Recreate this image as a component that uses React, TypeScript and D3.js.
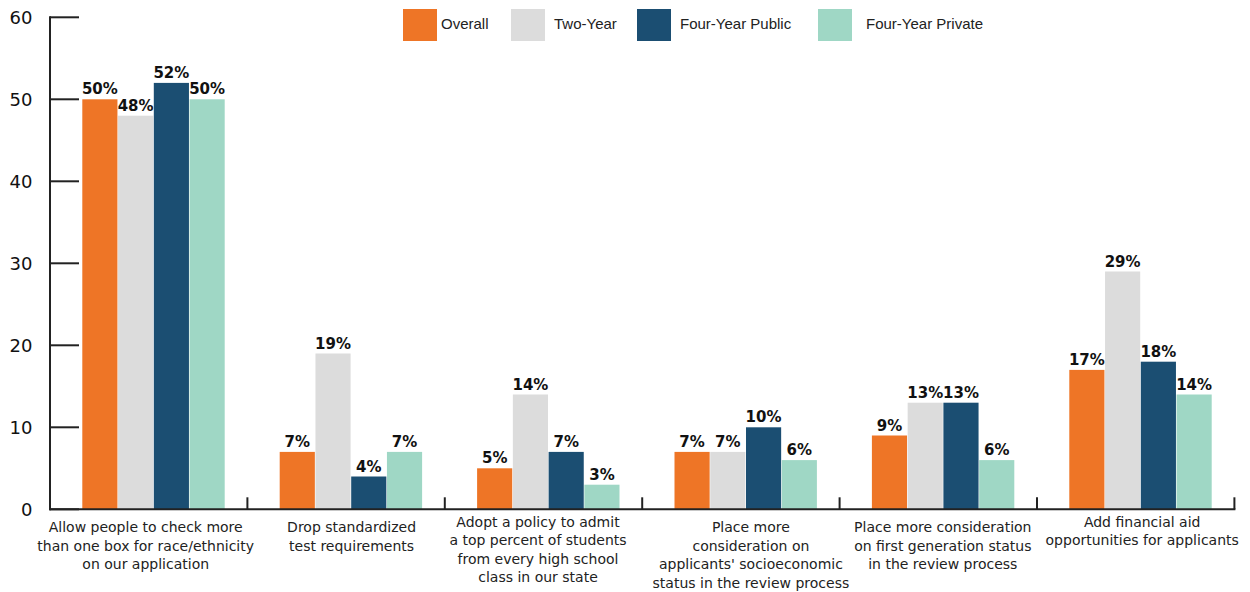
import React from "react";
import * as d3 from "d3";

const categories: string[][] = [
  ["Allow people to check more", "than one box for race/ethnicity", "on our application"],
  ["Drop standardized", "test requirements"],
  ["Adopt a policy to admit", "a top percent of students", "from every high school", "class in our state"],
  ["Place more", "consideration on", "applicants' socioeconomic", "status in the review process"],
  ["Place more consideration", "on first generation status", "in the review process"],
  ["Add financial aid", "opportunities for applicants"],
];
const seriesNames = ["Overall", "Two-Year", "Four-Year Public", "Four-Year Private"];
const overall = [50, 7, 5, 7, 9, 17];
const twoYear = [48, 19, 14, 7, 13, 29];
const fourYearPublic = [52, 4, 7, 10, 13, 18];
const fourYearPrivate = [50, 7, 3, 6, 6, 14];
const yTicks = [0, 10, 20, 30, 40, 50, 60];

const colors = ["#EE7526", "#DCDCDC", "#1B4E72", "#9FD7C5"];

// layout constants
const labelNudgeX = [-3, 5.5, -5.5, 10, 4.5, 6.5];
const labelFirstBaseline = [532, 532, 526.5, 532, 532, 526.5];
const legendSquareX = [403, 511, 637, 818];
const legendTextX = [441, 554, 680, 866];

export default function App() {
  const W = 1250;
  const H = 592;
  const values = [overall, twoYear, fourYearPublic, fourYearPrivate];
  const catIdx = categories.map((_, i) => String(i));
  const x0 = d3.scaleBand<string>().domain(catIdx).range([50, 1234.4]).padding(0);
  const x1 = d3.scaleBand<string>().domain(seriesNames).range([0, 143]).padding(0);
  const y = d3.scaleLinear().domain([0, 60]).range([509.3, 17.3]);
  const barOffset = 32;
  const axisColor = "#222";

  return (
    <svg
      width={W}
      height={H}
      style={{ position: "absolute", left: 0, top: 0, background: "#fff" }}
    >
      {/* bars */}
      {catIdx.map((c, ci) =>
        seriesNames.map((s, si) => {
          const v = values[si][ci];
          const bx = (x0(c) as number) + barOffset + (x1(s) as number);
          const bw = x1.bandwidth();
          return (
            <g key={c + s}>
              <rect
                x={bx + 0.3}
                y={y(v)}
                width={bw - 0.6}
                height={y(0) - y(v)}
                fill={colors[si]}
              />
              <text
                x={bx + bw / 2}
                y={y(v) - 5}
                textAnchor="middle"
                fontFamily="DejaVu Sans"
                fontWeight="bold"
                fontSize={15}
                fill="#111"
              >
                {v}%
              </text>
            </g>
          );
        })
      )}

      {/* y axis */}
      <line x1={50} x2={50} y1={y(60) - 1} y2={y(0) + 1} stroke={axisColor} strokeWidth={2} />
      {yTicks.map((t) => (
        <g key={t}>
          <line x1={50} x2={79} y1={y(t)} y2={y(t)} stroke={axisColor} strokeWidth={2} />
          <text
            x={32.5}
            y={y(t) + 6.5}
            textAnchor="end"
            fontFamily="DejaVu Sans"
            fontSize={18}
            fill="#111"
          >
            {t}
          </text>
        </g>
      ))}

      {/* x axis */}
      <line x1={49} x2={x0.range()[1] + 1} y1={y(0)} y2={y(0)} stroke={axisColor} strokeWidth={2} />
      {catIdx.map((c) => {
        const tx = (x0(c) as number) + x0.bandwidth();
        return (
          <line key={"t" + c} x1={tx} x2={tx} y1={y(0)} y2={y(0) - 12} stroke={axisColor} strokeWidth={2} />
        );
      })}
      {categories.map((lines, ci) => {
        const cx = (x0(String(ci)) as number) + x0.bandwidth() / 2 + labelNudgeX[ci];
        return (
          <text
            key={"l" + ci}
            textAnchor="middle"
            fontFamily="DejaVu Sans"
            fontSize={14}
            fill="#222"
          >
            {lines.map((ln, li) => (
              <tspan key={li} x={cx} y={labelFirstBaseline[ci] + li * 18.5}>
                {ln}
              </tspan>
            ))}
          </text>
        );
      })}

      {/* legend */}
      {seriesNames.map((s, si) => (
        <g key={"lg" + s}>
          <rect x={legendSquareX[si]} y={9} width={34} height={32} fill={colors[si]} />
          <text
            x={legendTextX[si]}
            y={28.5}
            fontFamily="Liberation Sans"
            fontSize={15}
            fill="#222"
          >
            {s}
          </text>
        </g>
      ))}
    </svg>
  );
}
